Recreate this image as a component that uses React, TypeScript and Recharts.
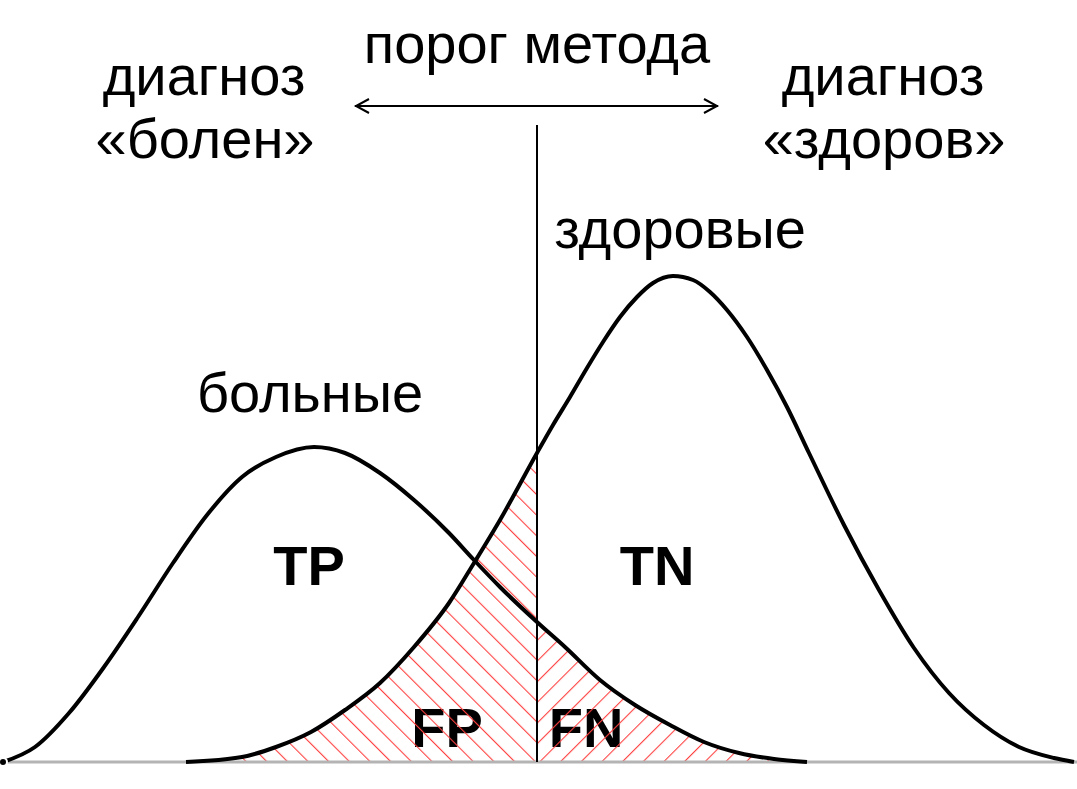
import { ComposedChart, Line, Area, XAxis, YAxis, ReferenceLine } from 'recharts'

// score axis (x) and density (height above baseline)
const SICK_X = [3, 35, 69, 104, 138, 173, 207, 242, 276, 314, 345, 380, 414, 449, 474, 500, 537, 565, 600, 635, 670, 704, 739, 774, 807]
const SICK_Y = [0, 15, 49, 95, 145, 199, 247, 285, 305, 315, 309, 289, 262, 229, 202, 175, 140, 115, 82, 57, 37, 20, 9, 3, 0]

const HEALTHY_X = [186, 242, 276, 311, 345, 380, 414, 449, 474, 500, 537, 553, 570, 587, 603, 620, 637, 653, 673, 693, 710, 727, 747, 767, 787, 809, 844, 879, 914, 949, 984, 1019, 1054, 1074]
const HEALTHY_Y = [0, 5, 15, 30, 52, 79, 115, 159, 199, 242, 309, 337, 365, 394, 420, 445, 465, 479, 486, 482, 470, 452, 425, 392, 355, 309, 237, 172, 114, 69, 37, 15, 4, 0]

const THRESHOLD = 537
const X_MAX = 1077
const Y_MAX = 762

const xs = Array.from(new Set([...SICK_X, ...HEALTHY_X])).sort((a, b) => a - b)
const data = xs.map((x) => {
  const si = SICK_X.indexOf(x)
  const hi = HEALTHY_X.indexOf(x)
  const sick = si >= 0 ? SICK_Y[si] : undefined
  const healthy = hi >= 0 ? HEALTHY_Y[hi] : undefined
  return {
    x,
    sick,
    healthy,
    fp: x <= THRESHOLD ? healthy : undefined,
    fn: x >= THRESHOLD ? sick : undefined,
  }
})

const FONT = "'Liberation Sans', Arial, sans-serif"
const HATCH = '#ff4040'

const ArrowShape = (p: any) => {
  const { x1, y1, x2, y2 } = p
  return (
    <g stroke="#000" strokeWidth={2} fill="none">
      <line x1={x1} y1={y1} x2={x2} y2={y2} />
      <polyline points={`${x1 + 14},${y1 - 7} ${x1 + 1},${y1} ${x1 + 14},${y1 + 7}`} />
      <polyline points={`${x2 - 14},${y2 - 7} ${x2 - 1},${y2} ${x2 - 14},${y2 + 7}`} />
    </g>
  )
}

const txt = { fontFamily: FONT, fontSize: 56, fill: '#000', textAnchor: 'middle' as const }
const bold = { ...txt, fontWeight: 700 }

export default function App() {
  return (
    <div>
      <style>{`body{margin:0;background:#fff}`}</style>
      <ComposedChart width={1077} height={789} data={data} margin={{ top: 0, right: 0, bottom: 27, left: 0 }}>
        <defs>
          <pattern id="hatchDown" patternUnits="userSpaceOnUse" width={14.6} height={14.6} patternTransform="rotate(-45)">
            <rect x={0} y={0} width={1.1} height={14.6} fill={HATCH} />
          </pattern>
          <pattern id="hatchUp" patternUnits="userSpaceOnUse" width={14.6} height={14.6} patternTransform="rotate(45)">
            <rect x={0} y={0} width={1.1} height={14.6} fill={HATCH} />
          </pattern>
        </defs>
        <XAxis type="number" dataKey="x" domain={[0, X_MAX]} hide />
        <YAxis type="number" domain={[0, Y_MAX]} hide />

        <Area type="monotone" dataKey="fp" stroke="none" fill="url(#hatchDown)" fillOpacity={1} connectNulls isAnimationActive={false} />
        <Area type="monotone" dataKey="fn" stroke="none" fill="url(#hatchUp)" fillOpacity={1} connectNulls isAnimationActive={false} />

        <ReferenceLine y={0} stroke="#b4b4b4" strokeWidth={3} />
        <ReferenceLine segment={[{ x: THRESHOLD, y: 0 }, { x: THRESHOLD, y: 637 }]} stroke="#000" strokeWidth={2} />
        <ReferenceLine segment={[{ x: 355, y: 656 }, { x: 718, y: 656 }]} shape={ArrowShape} />

        <Line type="monotone" dataKey="sick" stroke="#000" strokeWidth={4} dot={false} connectNulls isAnimationActive={false} />
        <Line type="monotone" dataKey="healthy" stroke="#000" strokeWidth={4} dot={false} connectNulls isAnimationActive={false} />

        <text x={537} y={63} {...txt}>порог метода</text>
        <text x={204} y={95} {...txt}>диагноз</text>
        <text x={205} y={158} {...txt}>«болен»</text>
        <text x={883} y={95} {...txt}>диагноз</text>
        <text x={884} y={158} {...txt}>«здоров»</text>
        <text x={680} y={248} {...txt}>здоровые</text>
        <text x={310} y={412} {...txt}>больные</text>
        <text x={309} y={585} {...bold}>TP</text>
        <text x={657} y={585} {...bold}>TN</text>
        <text x={447} y={747} {...bold}>FP</text>
        <text x={586} y={747} {...bold}>FN</text>
      </ComposedChart>
    </div>
  )
}
